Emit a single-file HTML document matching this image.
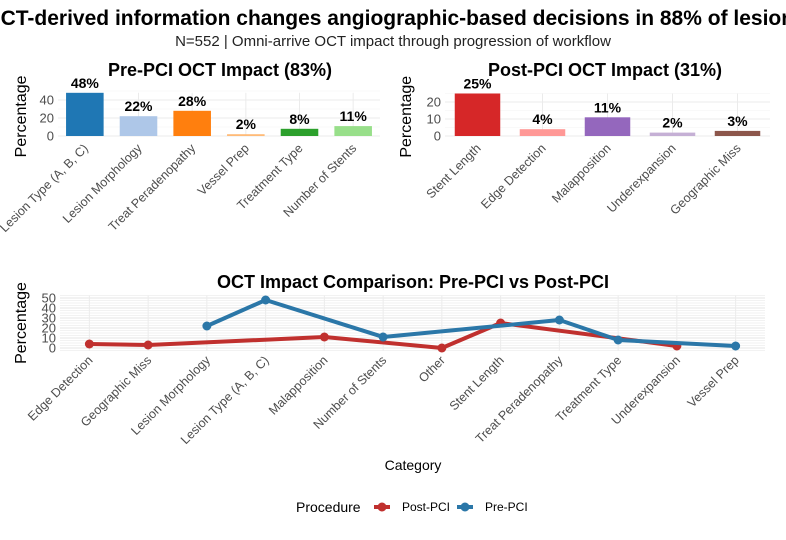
<!DOCTYPE html>
<html><head><meta charset="utf-8"><style>
body{margin:0;background:#fff;overflow:hidden;}
svg{display:block;font-family:"Liberation Sans",sans-serif;}
</style></head><body>
<svg id="c" width="786" height="540">
<text x="395" y="25" text-anchor="middle" font-size="21" font-weight="bold">OCT-derived information changes angiographic-based decisions in 88% of lesions</text>
<text x="393" y="46" text-anchor="middle" font-size="15" fill="#222">N=552 | Omni-arrive OCT impact through progression of workflow</text>
<text x="220" y="76" text-anchor="middle" font-size="18" font-weight="bold">Pre-PCI OCT Impact (83%)</text>
<text x="605" y="76" text-anchor="middle" font-size="18" font-weight="bold">Post-PCI OCT Impact (31%)</text>
<text x="413" y="288" text-anchor="middle" font-size="18" font-weight="bold">OCT Impact Comparison: Pre-PCI vs Post-PCI</text>
<g id="g"></g>
</svg>
<script>
const preCats=["Lesion Type (A, B, C)","Lesion Morphology","Treat Peradenopathy","Vessel Prep","Treatment Type","Number of Stents"];
const preVals=[48,22,28,2,8,11];
const preColors=["#1f77b4","#aec7e8","#ff7f0e","#ffbb78","#2ca02c","#98df8a"];
const preTicks=[0,20,40];
const postCats=["Stent Length","Edge Detection","Malapposition","Underexpansion","Geographic Miss"];
const postVals=[25,4,11,2,3];
const postColors=["#d62728","#ff9896","#9467bd","#c5b0d5","#8c564b"];
const postTicks=[0,10,20];
const lineCats=["Edge Detection","Geographic Miss","Lesion Morphology","Lesion Type (A, B, C)","Malapposition","Number of Stents","Other","Stent Length","Treat Peradenopathy","Treatment Type","Underexpansion","Vessel Prep"];
const postLine=[4,3,null,null,11,null,0,25,null,null,2,null];
const preLine=[null,null,22,48,null,11,null,null,28,8,null,2];
const lineTicks=[0,10,20,30,40,50];
const NS="http://www.w3.org/2000/svg";
const g=document.getElementById('g');
function el(t,a,p){const e=document.createElementNS(NS,t);for(const k in a)e.setAttribute(k,a[k]);(p||g).appendChild(e);return e;}

function barPanel(cats,vals,colors,ticks,x0,x1,y0,scale,ymax,name,ytx){
  const n=cats.length,step=(x1-x0)/n,bw=step*0.7;
  const X=i=>x0+step*(i+0.5),Y=v=>y0-v*scale;
  for(let t=0;t<=ymax;t+=ticks[1]-ticks[0]){
    const l=el('line',{x1:x0,x2:x1,y1:Y(t),y2:Y(t),stroke:'#ebebeb','stroke-width':1.1});
    
    const m=t+(ticks[1]-ticks[0])/2;
    if(Y(m)>y0-ymax*scale-2){const l2=el('line',{x1:x0,x2:x1,y1:Y(m),y2:Y(m),stroke:'#f3f3f3','stroke-width':0.6});
    }
  }
  cats.forEach((c,i)=>{const l=el('line',{x1:X(i),x2:X(i),y1:y0,y2:y0-ymax*scale,stroke:'#ebebeb'});
    });
  ticks.forEach(t=>{const tx=el('text',{x:x0-4,y:Y(t)+4.5,'text-anchor':'end','font-size':13,fill:'#4d4d4d'});tx.textContent=t;
    });
  cats.forEach((c,i)=>{
    const r=el('rect',{x:X(i)-bw/2,y:Y(vals[i]),width:bw,height:vals[i]*scale,fill:colors[i]});
    
    const lb=el('text',{x:X(i),y:Y(vals[i])-5,'text-anchor':'middle','font-size':14,'font-weight':'bold'});lb.textContent=vals[i]+'%';
    
    const xl=el('text',{transform:`translate(${X(i)+4},${y0+13}) rotate(-45)`,'text-anchor':'end','font-size':12.5,fill:'#4d4d4d'});xl.textContent=c;
    
  });
  const yt=el('text',{transform:`translate(${ytx},${y0-ymax*scale/2+2}) rotate(-90)`,'text-anchor':'middle','font-size':16});yt.textContent='Percentage';
  
}
barPanel(preCats,preVals,preColors,preTicks,58,380,136,0.9,48,'pre',26);
barPanel(postCats,postVals,postColors,postTicks,445,770,136,1.7,25,'post',411);

// line chart
const lx0=60,lx1=765,ly0=348,ls=1.0;
const lstep=(lx1-lx0)/lineCats.length;
const LX=i=>lx0+lstep*(i+0.5),LY=v=>ly0-v*ls;
for(let t=-2.5;t<=52.5;t+=2.5){const l=el('line',{x1:lx0,x2:lx1,y1:LY(t),y2:LY(t),stroke:t%10==0?'#e6e6e6':'#f2f2f2'});
  }
lineCats.forEach((c,i)=>{const l=el('line',{x1:LX(i),x2:LX(i),y1:ly0+3,y2:LY(52.5),stroke:'#ebebeb'});
  
  const xl=el('text',{transform:`translate(${LX(i)+4},${ly0+13}) rotate(-45)`,'text-anchor':'end','font-size':12.5,fill:'#4d4d4d'});xl.textContent=c;
  });
lineTicks.forEach(t=>{const tx=el('text',{x:lx0-4,y:LY(t)+4.5,'text-anchor':'end','font-size':13,fill:'#4d4d4d'});tx.textContent=t;
  });
const yt=el('text',{transform:`translate(26,323) rotate(-90)`,'text-anchor':'middle','font-size':16});yt.textContent='Percentage';

function series(vals,color,name){
  const pts=[];vals.forEach((v,i)=>{if(v!==null)pts.push([LX(i),LY(v)]);});
  const p=el('polyline',{points:pts.map(p=>p.join(',')).join(' '),fill:'none',stroke:color,'stroke-width':4,'stroke-linejoin':'round'});
  
  pts.forEach(q=>{const c=el('circle',{cx:q[0],cy:q[1],r:4.5,fill:color});
    });
}
series(postLine,'#c0302e','post-pci');
series(preLine,'#2b77a8','pre-pci');
const xt=el('text',{x:413,y:470,'text-anchor':'middle','font-size':14});xt.textContent='Category';

// legend
const lg=el('g',{});
const lt=el('text',{x:296,y:512,'font-size':14},lg);lt.textContent='Procedure';
[['Post-PCI','#c0302e',374],['Pre-PCI','#2b77a8',457]].forEach(([n,c,x])=>{
  const k=el('line',{x1:x,x2:x+16,y1:507,y2:507,stroke:c,'stroke-width':4},lg);
  
  el('circle',{cx:x+8,cy:507,r:4.5,fill:c},lg);
  const t=el('text',{x:x+28,y:511,'font-size':12},lg);t.textContent=n;
  
});
</script>
</body></html>
